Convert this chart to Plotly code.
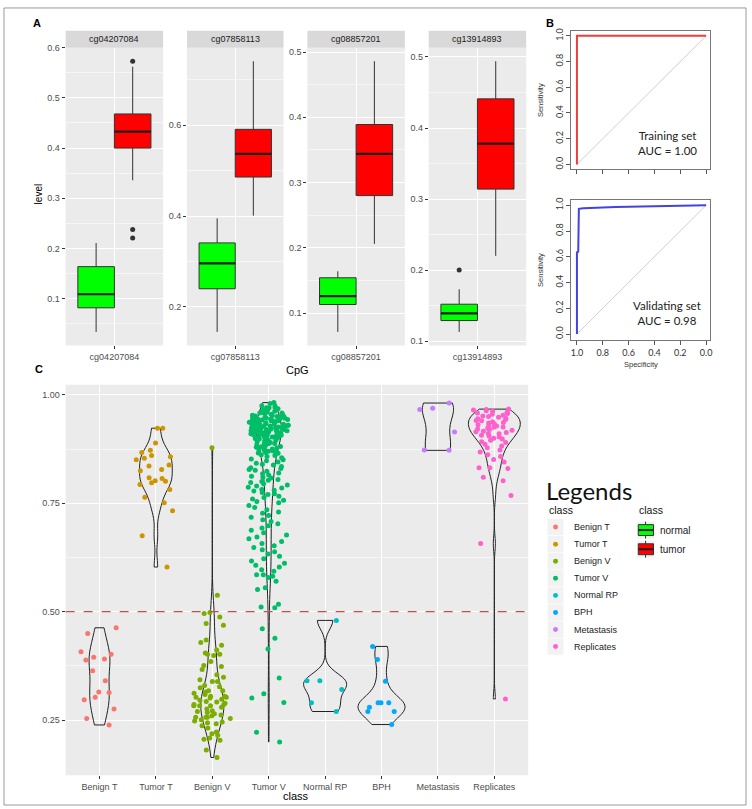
import numpy as np
import plotly.graph_objects as go

W, H = 752, 809


def px(x):
    return x / W


def py(y):
    return 1 - y / H


FONT = "Liberation Sans, Arial, sans-serif"
CAL = "Lato, Carlito, sans-serif"

# ---------------- Panel A data ----------------
CPGS = ["cg04207084", "cg07858113", "cg08857201", "cg13914893"]
normal_lower = [0.034, 0.145, 0.071, 0.113]
normal_q1 = [0.082, 0.240, 0.113, 0.129]
normal_median = [0.109, 0.296, 0.126, 0.139]
normal_q3 = [0.164, 0.341, 0.154, 0.152]
normal_upper = [0.211, 0.395, 0.164, 0.173]
normal_outliers = [[], [], [], [0.200]]
tumor_lower = [0.336, 0.401, 0.206, 0.220]
tumor_q1 = [0.400, 0.486, 0.280, 0.314]
tumor_median = [0.433, 0.537, 0.344, 0.378]
tumor_q3 = [0.468, 0.591, 0.389, 0.441]
tumor_upper = [0.562, 0.741, 0.486, 0.494]
tumor_outliers = [[0.573, 0.238, 0.221], [], [], []]
facet_ticks = [
    [0.1, 0.2, 0.3, 0.4, 0.5, 0.6],
    [0.2, 0.4, 0.6],
    [0.1, 0.2, 0.3, 0.4, 0.5],
    [0.1, 0.2, 0.3, 0.4, 0.5],
]

# ---------------- Panel B data ----------------
TRAIN_SPEC = [1.0, 1.0, 0.0]
TRAIN_SENS = [0.0, 1.0, 1.0]
VALID_SPEC = [1.0, 1.0, 0.99, 0.985, 0.95, 0.9, 0.8, 0.7, 0.6, 0.5, 0.4, 0.3, 0.2, 0.1, 0.0]
VALID_SENS = [0.0, 0.634, 0.64, 0.972, 0.976, 0.979, 0.983, 0.986, 0.989, 0.991, 0.994, 0.996, 0.997, 0.998, 1.0]
ROC_TICKS = [0.0, 0.2, 0.4, 0.6, 0.8, 1.0]

# ---------------- Panel C data ----------------
CLASSES = ["Benign T", "Tumor T", "Benign V", "Tumor V", "Normal RP", "BPH", "Metastasis", "Replicates"]
CLASS_COLORS = ["#F8766D", "#CD9600", "#7CAE00", "#00BE67", "#00BFC4", "#00A9FF", "#C77CFF", "#FF61CC"]
benign_t = [0.463, 0.450, 0.408, 0.402, 0.395, 0.391, 0.389, 0.364, 0.341, 0.314, 0.315, 0.297,
            0.303, 0.276, 0.254, 0.239]
tumor_t = [0.923, 0.923, 0.889, 0.872, 0.867, 0.860, 0.857, 0.854, 0.850, 0.838, 0.836, 0.828,
           0.825, 0.809, 0.807, 0.802, 0.801, 0.797, 0.793, 0.782, 0.764, 0.751, 0.733, 0.675, 0.603]
benign_v = [0.538, 0.498, 0.496, 0.488, 0.473, 0.469, 0.435, 0.429, 0.423, 0.412, 0.405, 0.402,
            0.402, 0.399, 0.385, 0.376, 0.374, 0.367, 0.355, 0.349, 0.343, 0.339, 0.339, 0.330,
            0.325, 0.318, 0.318, 0.309, 0.305, 0.305, 0.303, 0.303, 0.301, 0.296, 0.286, 0.286,
            0.283, 0.283, 0.283, 0.276, 0.260, 0.257, 0.257, 0.257, 0.254, 0.248, 0.246, 0.242,
            0.237, 0.232, 0.223, 0.219, 0.215, 0.209, 0.206, 0.204, 0.181, 0.164, 0.878, 0.312,
            0.298, 0.292, 0.289, 0.280, 0.272, 0.268, 0.265, 0.262, 0.251, 0.244, 0.315, 0.327,
            0.293, 0.270]
tumor_v = [0.982, 0.98, 0.975, 0.975, 0.97, 0.97, 0.97, 0.968, 0.965, 0.965, 0.963, 0.96, 0.96,
           0.958, 0.957, 0.955, 0.955, 0.953, 0.952, 0.95, 0.95, 0.95, 0.948, 0.947, 0.946, 0.945,
           0.945, 0.944, 0.943, 0.942, 0.941, 0.94, 0.94, 0.94, 0.939, 0.938, 0.937, 0.936, 0.935,
           0.935, 0.934, 0.933, 0.932, 0.931, 0.93, 0.93, 0.93, 0.929, 0.928, 0.927, 0.926, 0.925,
           0.925, 0.924, 0.923, 0.922, 0.921, 0.92, 0.92, 0.92, 0.919, 0.918, 0.917, 0.916, 0.915,
           0.915, 0.914, 0.913, 0.912, 0.911, 0.91, 0.91, 0.909, 0.908, 0.907, 0.906, 0.905, 0.905,
           0.903, 0.902, 0.9, 0.9, 0.899, 0.897, 0.895, 0.894, 0.892, 0.89, 0.89, 0.888, 0.886,
           0.885, 0.883, 0.881, 0.88, 0.878, 0.876, 0.875, 0.873, 0.871, 0.87, 0.868, 0.866, 0.865,
           0.862, 0.86, 0.962, 0.958, 0.951, 0.946, 0.943, 0.938, 0.936, 0.932, 0.928, 0.924,
           0.921, 0.917, 0.913, 0.908, 0.904, 0.898, 0.893, 0.887, 0.879, 0.872, 0.867,
           0.858, 0.855, 0.852, 0.85, 0.848, 0.845, 0.842, 0.84, 0.838, 0.835, 0.832, 0.83, 0.828,
           0.826, 0.824, 0.82, 0.818, 0.815, 0.812, 0.81, 0.808, 0.805, 0.803, 0.8, 0.798, 0.795,
           0.792, 0.79, 0.787, 0.785, 0.782, 0.78, 0.778, 0.775, 0.772, 0.77, 0.766, 0.763, 0.76,
           0.757, 0.754, 0.751,
           0.745, 0.74, 0.735, 0.73, 0.727, 0.722, 0.718, 0.712, 0.708, 0.703, 0.698, 0.693, 0.688,
           0.682, 0.677, 0.672, 0.668, 0.662, 0.657, 0.652, 0.648, 0.643, 0.638, 0.633, 0.628,
           0.622, 0.617, 0.612, 0.607, 0.603,
           0.597, 0.593, 0.585, 0.585, 0.582, 0.579, 0.57, 0.555, 0.551, 0.517, 0.511, 0.509,
           0.461, 0.439, 0.414, 0.347, 0.311, 0.301, 0.291, 0.222, 0.200]
normal_rp = [0.480, 0.341, 0.341, 0.321, 0.290, 0.270]
bph = [0.420, 0.390, 0.340, 0.290, 0.290, 0.280, 0.290, 0.270, 0.270, 0.240]
metastasis = [0.981, 0.969, 0.966, 0.914, 0.872, 0.873]
replicates = [0.967, 0.966, 0.965, 0.963, 0.962, 0.96, 0.958, 0.957, 0.955, 0.953, 0.951, 0.95,
              0.948, 0.946, 0.945, 0.943, 0.941, 0.94, 0.938, 0.936, 0.935, 0.933, 0.931, 0.93,
              0.928, 0.926, 0.925, 0.923, 0.921, 0.92, 0.918, 0.916, 0.915, 0.913, 0.911, 0.91,
              0.907, 0.905, 0.903, 0.9, 0.898, 0.895, 0.892, 0.89, 0.886, 0.882, 0.878, 0.873,
              0.868, 0.862, 0.858, 0.851, 0.845, 0.832, 0.832, 0.83, 0.81, 0.802, 0.768, 0.657,
              0.299]
CLASS_VALUES = [benign_t, tumor_t, benign_v, tumor_v, normal_rp, bph, metastasis, replicates]
C_TICKS = [0.25, 0.50, 0.75, 1.00]
THRESHOLD = 0.5

# ---------------- styles ----------------
VIOLIN_WIDTHS = [0.37, 0.58, 0.41, 0.45, 0.76, 0.83, 0.55, 0.92]
# density tiers so that plotly's jitter spreads sparse points as widely as dense ones
JITTER_TIERS = [[], [0.75], [0.45], [0.5, 0.6, 0.75, 0.86], [], [], [], [0.8, 0.88]]
JITTER_WIDTH = 0.76
BOX_OFFSET = 0.225
BOX_WIDTH = 0.45
PANEL_BG = "#EBEBEB"
TICK_COL = "#4D4D4D"

fig = go.Figure()
shapes = []
annotations = []

facet_x = [(65, 163), (187, 284), (308, 406), (430, 528)]
A_TOP, A_BOT = 43, 343


def ann(text, x, y, size=9, color="#000", family=FONT, xanchor="center", yanchor="middle", angle=0, bold=False):
    if bold:
        text = "<b>" + text + "</b>"
    annotations.append(dict(text=text, x=px(x), y=py(y), xref="paper", yref="paper", showarrow=False,
                            font=dict(size=size, color=color, family=family), xanchor=xanchor,
                            yanchor=yanchor, textangle=angle))


def rect(x0, y0, x1, y1, fill, line_color=None, lw=0, layer="below"):
    shapes.append(dict(type="rect", xref="paper", yref="paper", x0=px(x0), x1=px(x1), y0=py(y1), y1=py(y0),
                       fillcolor=fill, line=dict(color=line_color or fill, width=lw), layer=layer))


def minor_of(ticks):
    step = ticks[1] - ticks[0]
    return [ticks[0] - step / 2] + [t + step / 2 for t in ticks]


layout_axes = {}

# ---------- Panel A ----------
for i in range(4):
    n = "" if i == 0 else str(i + 1)
    xa, ya = "x" + n, "y" + n
    vals = [normal_lower[i], normal_upper[i], tumor_lower[i], tumor_upper[i]] + normal_outliers[i] + tumor_outliers[i]
    lo, hi = min(vals), max(vals)
    pad = (hi - lo) * 0.05
    for pos, q1, med, q3, lf, uf, col, outl in [
        (-BOX_OFFSET, normal_q1[i], normal_median[i], normal_q3[i], normal_lower[i], normal_upper[i], "#00FF00", normal_outliers[i]),
        (BOX_OFFSET, tumor_q1[i], tumor_median[i], tumor_q3[i], tumor_lower[i], tumor_upper[i], "#FF0000", tumor_outliers[i]),
    ]:
        fig.add_trace(go.Box(x=[pos], q1=[q1], median=[med], q3=[q3], lowerfence=[lf], upperfence=[uf],
                             width=BOX_WIDTH, fillcolor=col, line=dict(color="#333333", width=1),
                             whiskerwidth=0, boxpoints=False, xaxis=xa, yaxis=ya, showlegend=False,
                             hoverinfo="skip"))
        fig.add_trace(go.Scatter(x=[pos - BOX_WIDTH / 2, pos + BOX_WIDTH / 2], y=[med, med], mode="lines",
                                 line=dict(color="#1E1E1E", width=2.2), xaxis=xa, yaxis=ya,
                                 showlegend=False, hoverinfo="skip"))
        if outl:
            fig.add_trace(go.Scatter(x=[pos] * len(outl), y=outl, mode="markers",
                                     marker=dict(color="#333333", size=5), xaxis=xa, yaxis=ya,
                                     showlegend=False, hoverinfo="skip"))
    x0, x1 = facet_x[i]
    layout_axes["xaxis" + n] = dict(domain=[px(x0), px(x1)], anchor=ya, range=[-0.6, 0.6],
                                    tickvals=[0], ticktext=[CPGS[i]], ticks="outside", ticklen=3,
                                    tickcolor="#333", tickfont=dict(size=9, color=TICK_COL, family=FONT),
                                    showgrid=True, gridcolor="white", gridwidth=1, zeroline=False)
    layout_axes["yaxis" + n] = dict(domain=[py(A_BOT), py(A_TOP)], anchor=xa, range=[lo - pad, hi + pad],
                                    tickvals=facet_ticks[i], ticktext=["%.1f" % t for t in facet_ticks[i]],
                                    ticks="outside", ticklen=3, tickcolor="#333",
                                    tickfont=dict(size=9, color=TICK_COL, family=FONT),
                                    showgrid=True, gridcolor="white", gridwidth=1, zeroline=False,
                                    minor=dict(tickvals=minor_of(facet_ticks[i]), showgrid=True,
                                               gridcolor="#F6F6F6", gridwidth=0.6))
    shapes.append(dict(type="rect", xref=xa + " domain", yref=ya + " domain", x0=0, x1=1, y0=0, y1=1,
                       fillcolor=PANEL_BG, line=dict(width=0), layer="below"))
    rect(x0, 26, x1, A_TOP, "#D9D9D9")
    ann(CPGS[i], (x0 + x1) / 2, 34.5, size=9, color="#1A1A1A")

ann("A", 36, 18, size=11, bold=True)
ann("level", 38, 190, size=10, angle=-90)
ann("CpG", 298, 368, size=11)

# ---------- Panel B ----------
for n, spec, sens, col, top, bot, yr, lbls, title in [
    ("5", TRAIN_SPEC, TRAIN_SENS, "#F03C3C", 25.7, 165.7, [-0.039, 1.041], False, "Training set<br>AUC = 1.00"),
    ("6", VALID_SPEC, VALID_SENS, "#4343E0", 196.3, 337.3, [-0.045, 1.042], True, "Validating set<br>AUC = 0.98"),
]:
    xa, ya = "x" + n, "y" + n
    fig.add_trace(go.Scatter(x=[ROC_TICKS[-1], ROC_TICKS[0]], y=[ROC_TICKS[0], ROC_TICKS[-1]], mode="lines",
                             line=dict(color="#CFCFCF", width=1), xaxis=xa, yaxis=ya, showlegend=False,
                             hoverinfo="skip"))
    fig.add_trace(go.Scatter(x=spec, y=sens, mode="lines", line=dict(color=col, width=2), xaxis=xa, yaxis=ya,
                             showlegend=False, hoverinfo="skip"))
    layout_axes["xaxis" + n] = dict(domain=[px(573.3), px(712.3)], anchor=ya, range=[1.044, -0.026],
                                    tickvals=ROC_TICKS, ticktext=["%.1f" % t for t in ROC_TICKS],
                                    showticklabels=lbls, ticks="outside", ticklen=4, tickcolor="#555",
                                    tickfont=dict(size=9, color="#333", family=CAL),
                                    showline=True, mirror=True, linecolor="#777", linewidth=1,
                                    showgrid=False, zeroline=False)
    layout_axes["yaxis" + n] = dict(domain=[py(bot), py(top)], anchor=xa, range=yr,
                                    tickvals=ROC_TICKS, ticktext=["%.1f" % t for t in ROC_TICKS],
                                    tickangle=-90, ticks="outside", ticklen=4, tickcolor="#555",
                                    tickfont=dict(size=9, color="#333", family=CAL),
                                    showline=True, mirror=True, linecolor="#777", linewidth=1,
                                    showgrid=False, zeroline=False)
    ann("Sensitivity", 543, (top + bot) / 2, size=7.5, color="#333", angle=-90)
    ann(title, 670, bot - 27, size=11.5, color="#222", family=CAL)

ann("B", 552, 18, size=11, bold=True)
ann("Specificity", 643, 362, size=7.5, color="#333")

# ---------- Panel C ----------
for k, vals in enumerate(CLASS_VALUES):
    arr = np.array(vals)
    tiers = np.digitize(arr, JITTER_TIERS[k]) if JITTER_TIERS[k] else np.zeros(len(arr), int)
    for t in sorted(set(tiers.tolist())):
        sub = arr[tiers == t].tolist()
        fig.add_trace(go.Box(x=[CLASSES[k]] * len(sub), y=sub, xaxis="x7", yaxis="y7", boxpoints="all",
                             jitter=1, pointpos=0, width=JITTER_WIDTH,
                             line=dict(width=0, color="rgba(0,0,0,0)"), fillcolor="rgba(0,0,0,0)",
                             marker=dict(color=CLASS_COLORS[k], size=5, line=dict(width=0)),
                             showlegend=False, hoverinfo="skip"))
for k, vals in enumerate(CLASS_VALUES):
    arr = np.array(vals)
    iqr = np.percentile(arr, 75) - np.percentile(arr, 25)
    bw = 0.9 * min(arr.std(ddof=1), iqr / 1.34) * len(arr) ** -0.2
    fig.add_trace(go.Violin(x=[CLASSES[k]] * len(vals), y=vals, xaxis="x7", yaxis="y7", points=False,
                            spanmode="hard", scalemode="width", width=VIOLIN_WIDTHS[k], bandwidth=bw,
                            line=dict(color="#222222", width=1), fillcolor="rgba(0,0,0,0)",
                            showlegend=False, hoverinfo="skip"))

allc = [v for vals in CLASS_VALUES for v in vals]
clo, chi = min(allc), max(allc)
cpad = (chi - clo) * 0.05
layout_axes["xaxis7"] = dict(domain=[px(65), px(530)], anchor="y7", type="category",
                             categoryorder="array", categoryarray=CLASSES, range=[-0.6, 7.6],
                             ticks="outside", ticklen=3, tickcolor="#333",
                             tickfont=dict(size=9, color=TICK_COL, family=FONT),
                             showgrid=True, gridcolor="white", gridwidth=1, zeroline=False)
layout_axes["yaxis7"] = dict(domain=[py(776), py(382.7)], anchor="x7", range=[clo - cpad, chi + cpad],
                             tickvals=C_TICKS, ticktext=["%.2f" % t for t in C_TICKS],
                             ticks="outside", ticklen=3, tickcolor="#333",
                             tickfont=dict(size=9, color=TICK_COL, family=FONT),
                             showgrid=True, gridcolor="white", gridwidth=1, zeroline=False,
                             minor=dict(tickvals=minor_of(C_TICKS), showgrid=True, gridcolor="#F6F6F6",
                                        gridwidth=0.6))
shapes.append(dict(type="rect", xref="x7 domain", yref="y7 domain", x0=0, x1=1, y0=0, y1=1,
                   fillcolor=PANEL_BG, line=dict(width=0), layer="below"))
shapes.append(dict(type="line", xref="x7 domain", yref="y7", x0=0, x1=1, y0=THRESHOLD, y1=THRESHOLD,
                   line=dict(color="#C4504C", width=1.2, dash="dash"), layer="above"))
ann("C", 38, 367, size=11, bold=True)
ann("class", 297, 797, size=11)

# ---------- Legends ----------
ann("Legends", 546, 489, size=24, color="#111", family=CAL, xanchor="left")
ann("class", 549, 509, size=10.5, color="#111", xanchor="left")
ann("class", 639, 509, size=10.5, color="#111", xanchor="left")
for k, name in enumerate(CLASSES):
    yc = 526 + k * 17.2
    rect(549.5, yc - 8.3, 565.5, yc + 8.3, "#F2F2F2", layer="above")
    shapes.append(dict(type="circle", xref="paper", yref="paper", x0=px(555), x1=px(560), y0=py(yc + 2.5),
                       y1=py(yc - 2.5), fillcolor=CLASS_COLORS[k], line=dict(width=0), layer="above"))
    ann(name, 574, yc, size=9, color="#222", xanchor="left")
for j, (name, col) in enumerate([("normal", "#00FF00"), ("tumor", "#FF0000")]):
    yc = 529 + j * 19.3
    rect(639.5, yc - 8.5, 656.5, yc + 8.5, "#F2F2F2", layer="above")
    shapes.append(dict(type="line", xref="paper", yref="paper", x0=px(648), x1=px(648), y0=py(yc - 8.5),
                       y1=py(yc + 8.5), line=dict(color="#333", width=1), layer="above"))
    rect(640.7, yc - 5.5, 656, yc + 5.5, col, line_color="#333", lw=1, layer="above")
    shapes.append(dict(type="line", xref="paper", yref="paper", x0=px(640.7), x1=px(656), y0=py(yc),
                       y1=py(yc), line=dict(color="#1E1E1E", width=2), layer="above"))
    ann(name, 660.5, yc, size=10, color="#222", xanchor="left")

# outer frame
shapes.append(dict(type="rect", xref="paper", yref="paper", x0=px(3), x1=px(749), y0=py(806), y1=py(3),
                   line=dict(color="#9A9A9A", width=1), fillcolor="rgba(0,0,0,0)", layer="above"))

fig.update_layout(width=W, height=H, margin=dict(l=0, r=0, t=0, b=0), paper_bgcolor="white",
                  plot_bgcolor="rgba(0,0,0,0)", boxmode="overlay", violinmode="overlay",
                  showlegend=False, shapes=shapes, annotations=annotations, font=dict(family=FONT),
                  **layout_axes)
fig.write_html("out.html")
